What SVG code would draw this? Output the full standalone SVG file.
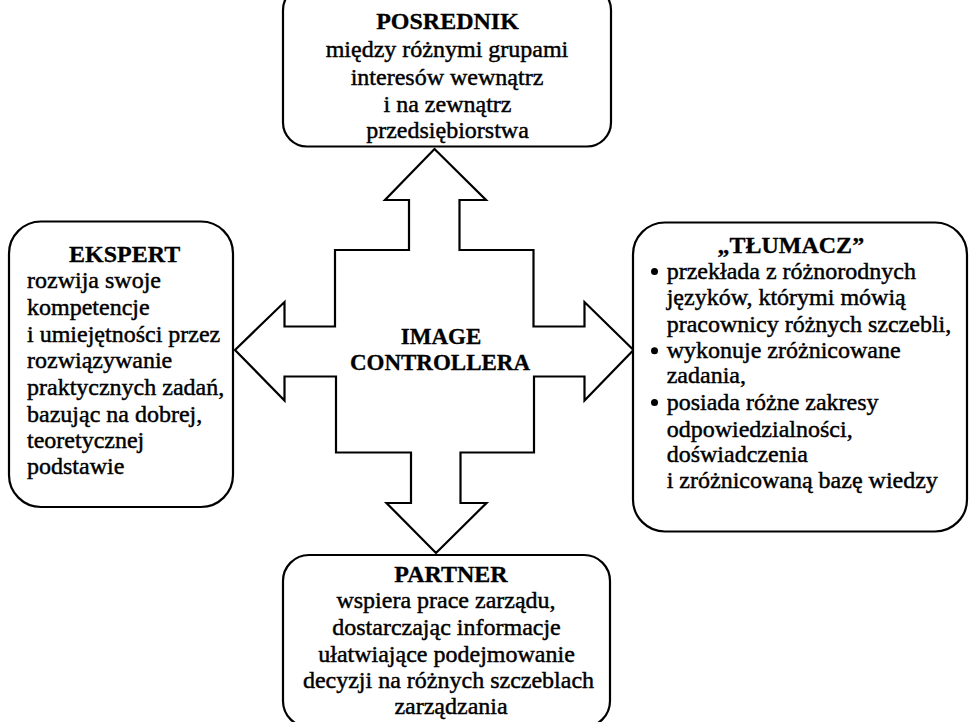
<svg xmlns="http://www.w3.org/2000/svg" width="970" height="722" viewBox="0 0 970 722">
<style>
.box{fill:#fff;stroke:#000;stroke-width:2.2}
.arrow{fill:#fff;stroke:#000;stroke-width:2.2;stroke-linejoin:miter}
.t{font-family:"Liberation Serif","DejaVu Serif",serif;font-size:24px;font-weight:normal;fill:#000;stroke:#000;stroke-width:0.45}
.b{font-weight:bold;stroke-width:0.3}
.m{font-size:23px}
.c{text-anchor:middle}
.dot{fill:#000}
</style>
<rect width="970" height="722" fill="#fff"/>
<g id="connectors">
<path class="arrow" d="M434.5,149 L486,200 L459.5,200 L459.5,250 L533.5,250 L533.5,326.5 L584.5,326.5 L584.5,302 L633.5,350 L584.5,400.5 L584.5,376.5 L534,376.5 L534,452.5 L460.5,452.5 L460.5,503 L486.5,503 L436,553 L386.5,503 L411,503 L411,452.5 L336,452.5 L336,376.5 L284.5,376.5 L284.5,400.5 L235,350 L284.5,302 L284.5,326.5 L335,326.5 L335,250 L409,250 L409,200 L385,200 Z"/>
</g>
<g id="image-controllera">
<text class="t b m c" x="441" y="344">IMAGE</text>
<text class="t b m c" x="440" y="370">CONTROLLERA</text>
</g>
<g id="posrednik">
<rect class="box" x="283" y="-14" width="328" height="160.5" rx="24"/>
<text class="t b c" x="447.5" y="29">POSREDNIK</text>
<text class="t c" x="447" y="57">między różnymi grupami</text>
<text class="t c" x="447" y="85">interesów wewnątrz</text>
<text class="t c" x="447.5" y="112">i na zewnątrz</text>
<text class="t c" x="447.5" y="138">przedsiębiorstwa</text>
</g>
<g id="ekspert">
<rect class="box" x="9" y="221.5" width="224" height="285.5" rx="32"/>
<text class="t b c" x="124.7" y="261.7">EKSPERT</text>
<text class="t" x="27" y="288.3">rozwija swoje</text>
<text class="t" x="27" y="315">kompetencje</text>
<text class="t" x="27" y="341.7">i umiejętności przez</text>
<text class="t" x="27" y="368.3">rozwiązywanie</text>
<text class="t" x="27" y="395">praktycznych zadań,</text>
<text class="t" x="27" y="421.5">bazując na dobrej,</text>
<text class="t" x="27" y="447.7">teoretycznej</text>
<text class="t" x="27" y="474">podstawie</text>
</g>
<g id="tlumacz">
<rect class="box" x="633" y="222.5" width="334" height="309" rx="32"/>
<text class="t b c" x="790.8" y="253">„TŁUMACZ”</text>
<circle class="dot" cx="654.5" cy="271.5" r="3.5"/>
<text class="t" x="666.7" y="279">przekłada z różnorodnych</text>
<text class="t" x="666.7" y="305">języków, którymi mówią</text>
<text class="t" x="666.7" y="331.7">pracownicy różnych szczebli,</text>
<circle class="dot" cx="654.5" cy="350.8" r="3.5"/>
<text class="t" x="666.7" y="358.3">wykonuje zróżnicowane</text>
<text class="t" x="666.7" y="383.3">zadania,</text>
<circle class="dot" cx="654.5" cy="402.5" r="3.5"/>
<text class="t" x="666.7" y="410">posiada różne zakresy</text>
<text class="t" x="666.7" y="436.7">odpowiedzialności,</text>
<text class="t" x="666.7" y="461.7">doświadczenia</text>
<text class="t" x="666.7" y="488.3">i zróżnicowaną bazę wiedzy</text>
</g>
<g id="partner">
<rect class="box" x="283" y="555" width="327" height="172" rx="26"/>
<text class="t b c" x="451" y="582">PARTNER</text>
<text class="t c" x="446" y="608.3">wspiera prace zarządu,</text>
<text class="t c" x="446.5" y="635">dostarczając informacje</text>
<text class="t c" x="446.5" y="661.7">ułatwiające podejmowanie</text>
<text class="t c" x="448.5" y="688.3">decyzji na różnych szczeblach</text>
<text class="t c" x="451" y="713.5">zarządzania</text>
</g>
</svg>
